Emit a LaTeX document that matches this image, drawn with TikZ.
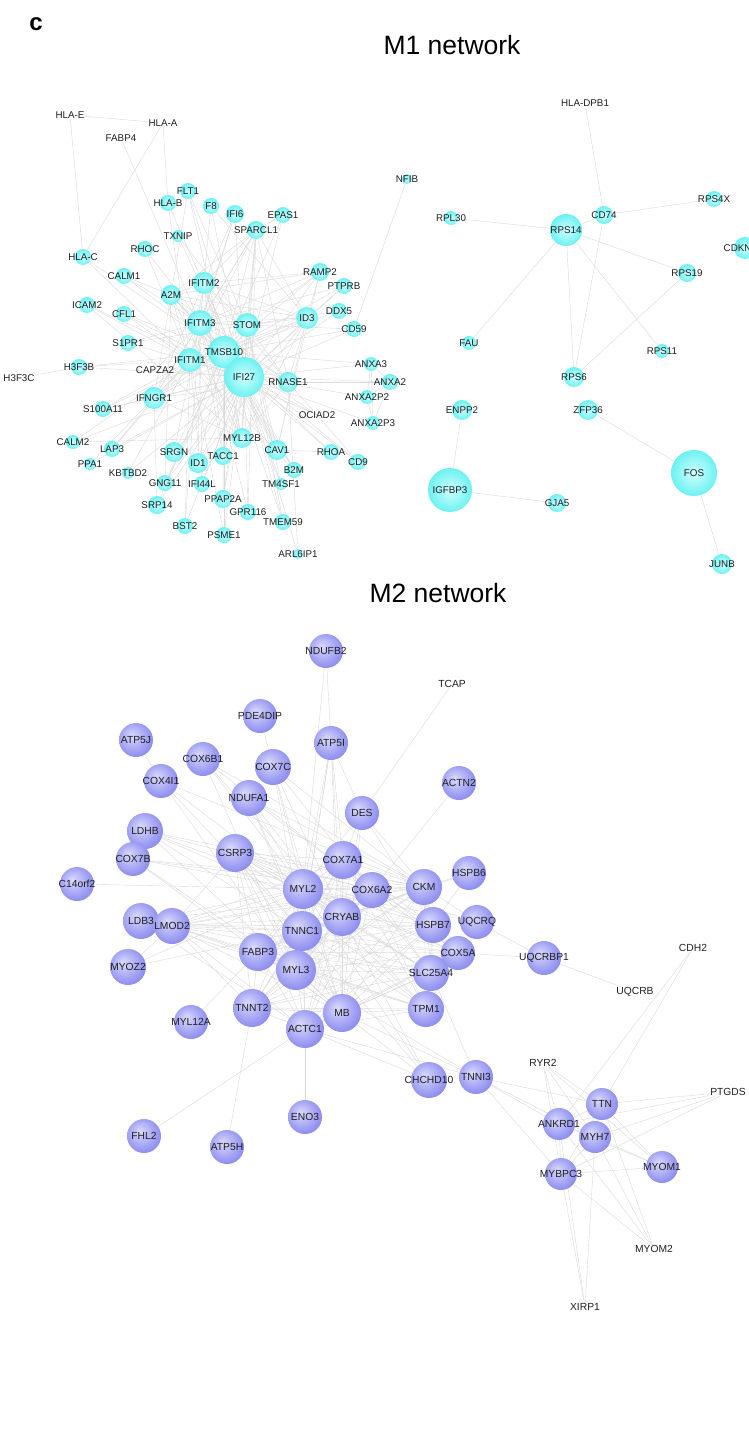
\documentclass[tikz,border=0pt]{standalone}
\usepackage{fontspec}
\setmainfont{Liberation Sans}
\usetikzlibrary{backgrounds}
\definecolor{c1hi}{HTML}{D2FFFF}
\definecolor{c1lo}{HTML}{6CF1F1}
\definecolor{c2hi}{HTML}{DADAFC}
\definecolor{c2mid}{HTML}{A2A2F4}
\definecolor{c2lo}{HTML}{8080EA}
\definecolor{edgec}{HTML}{D9D9D9}
\definecolor{txt}{HTML}{1E1E1E}
\pgfdeclareradialshading{monecyan}{\pgfpoint{0bp}{0bp}}{color(0bp)=(c1hi); color(25bp)=(c1lo); color(50bp)=(c1lo)}
\pgfdeclareradialshading{mtwoball}{\pgfpoint{-7bp}{7bp}}{color(0bp)=(c2hi); color(20bp)=(c2mid); color(33bp)=(c2lo); color(50bp)=(c2lo)}
\tikzset{
  onecirc/.style={circle, inner sep=0pt, shade, shading=monecyan},
  twocirc/.style={circle, inner sep=0pt, shade, shading=mtwoball},
  labone/.style={inner sep=0.5pt, font=\fontsize{9.8}{10}\selectfont, text=txt},
  labtwo/.style={inner sep=0.5pt, font=\fontsize{10.3}{11}\selectfont, text=txt},
  edge/.style={draw=edgec, line width=0.4pt},
  titl/.style={inner sep=0pt, font=\fontsize{26.5}{30}\selectfont, text=black}
}
% cyan node: name, x, y, r, label
\newcommand\cyn[5]{\node[onecirc, minimum size={2*#4pt}] (#1) at (#2,#3) {};\node[labone] (#1-l) at (#2,#3) {#5};}
% lavender node
\newcommand\lvn[5]{\node[twocirc, minimum size={2*#4pt}] (#1) at (#2,#3) {};\node[labtwo] (#1-l) at (#2,#3) {#5};}
% text-only nodes
\newcommand\tone[4]{\node[labone] (#1) at (#2,#3) {#4};}
\newcommand\ttwo[4]{\node[labtwo] (#1) at (#2,#3) {#4};}
\begin{document}
\begin{tikzpicture}[x=1pt,y=-1pt]
\useasboundingbox (0,0) rectangle (749,1450);
\clip (0,0) rectangle (749,1450);

\node[inner sep=0pt, font=\fontsize{24}{28}\selectfont\bfseries] (tagc) at (36,24) {c};
\node[titl] (tone) at (452,45) {M1 network};
\node[titl] (ttwo) at (438,593) {M2 network};

% ---------------- M1 left cluster ----------------
\tone{HLAE}{70}{115}{HLA-E}
\tone{HLAA}{163}{123}{HLA-A}
\tone{FABP4}{121}{138}{FABP4}
\cyn{FLT1}{188}{191}{8}{FLT1}
\cyn{HLAB}{168}{203}{8}{HLA-B}
\cyn{F8}{211}{206}{8}{F8}
\cyn{IFI6}{235}{214}{9}{IFI6}
\cyn{EPAS1}{283}{215}{8}{EPAS1}
\cyn{SPARCL1}{256}{230}{9}{SPARCL1}
\cyn{TXNIP}{178}{236}{6}{TXNIP}
\cyn{RHOC}{145}{249}{8}{RHOC}
\cyn{HLAC}{83}{257}{8}{HLA-C}
\cyn{NFIB}{407}{179}{5}{NFIB}
\cyn{CALM1}{124}{276}{8}{CALM1}
\cyn{RAMP2}{320}{272}{9}{RAMP2}
\cyn{PTPRB}{344}{286}{8}{PTPRB}
\cyn{IFITM2}{204}{283}{11}{IFITM2}
\cyn{A2M}{171}{295}{10}{A2M}
\cyn{ICAM2}{87}{305}{8}{ICAM2}
\cyn{DDX5}{339}{311}{8}{DDX5}
\cyn{CFL1}{124}{314}{8}{CFL1}
\cyn{ID3}{307}{318}{11}{ID3}
\cyn{IFITM3}{200}{323}{13}{IFITM3}
\cyn{STOM}{247}{325}{12}{STOM}
\cyn{CD59}{354}{329}{8}{CD59}
\cyn{S1PR1}{128}{343}{8}{S1PR1}
\cyn{TMSB10}{224}{352}{16}{TMSB10}
\cyn{IFITM1}{190}{360}{12}{IFITM1}
\cyn{H3F3B}{79}{367}{8}{H3F3B}
\tone{H3F3C}{19}{378}{H3F3C}
\tone{CAPZA2}{155}{370}{CAPZA2}
\cyn{ANXA3}{371}{364}{7}{ANXA3}
\cyn{IFI27}{244}{377}{20}{IFI27}
\cyn{RNASE1}{288}{382}{10}{RNASE1}
\cyn{ANXA2}{390}{382}{8}{ANXA2}
\cyn{ANXA2P2}{367}{397}{7}{ANXA2P2}
\cyn{IFNGR1}{154}{398}{11}{IFNGR1}
\cyn{S100A11}{103}{409}{8}{S100A11}
\tone{OCIAD2}{317}{415}{OCIAD2}
\cyn{ANXA2P3}{373}{423}{7}{ANXA2P3}
\cyn{MYL12B}{242}{438}{10}{MYL12B}
\cyn{CALM2}{73}{442}{7}{CALM2}
\cyn{LAP3}{112}{449}{8}{LAP3}
\cyn{SRGN}{174}{452}{10}{SRGN}
\cyn{CAV1}{277}{450}{10}{CAV1}
\cyn{RHOA}{331}{452}{8}{RHOA}
\cyn{TACC1}{223}{456}{9}{TACC1}
\cyn{CD9}{358}{462}{8}{CD9}
\cyn{ID1}{198}{463}{10}{ID1}
\cyn{PPA1}{90}{464}{6}{PPA1}
\cyn{B2M}{294}{470}{8}{B2M}
\cyn{KBTBD2}{128}{473}{6}{KBTBD2}
\cyn{GNG11}{165}{483}{8}{GNG11}
\cyn{IFI44L}{202}{484}{8}{IFI44L}
\cyn{TM4SF1}{281}{484}{6}{TM4SF1}
\cyn{PPAP2A}{223}{499}{9}{PPAP2A}
\cyn{SRP14}{157}{505}{9}{SRP14}
\cyn{GPR116}{248}{512}{8}{GPR116}
\cyn{TMEM59}{283}{522}{8}{TMEM59}
\cyn{BST2}{185}{526}{8}{BST2}
\cyn{PSME1}{224}{535}{8}{PSME1}
\cyn{ARL6IP1}{298}{554}{5}{ARL6IP1}

% ---------------- M1 right part ----------------
\tone{HLADPB1}{585}{103}{HLA-DPB1}
\cyn{RPL30}{451}{218}{7}{RPL30}
\cyn{RPS14}{566}{230}{16}{RPS14}
\cyn{CD74}{604}{215}{9}{CD74}
\cyn{RPS4X}{714}{199}{8}{RPS4X}
\node[onecirc, minimum size=22pt] (CDKN) at (745,248) {};
\node[labone, anchor=west] (CDKN-l) at (723,248) {CDKN1A};
\cyn{RPS19}{687}{273}{9}{RPS19}
\cyn{FAU}{469}{343}{7}{FAU}
\cyn{RPS11}{662}{351}{7}{RPS11}
\cyn{RPS6}{574}{377}{10}{RPS6}
\cyn{ENPP2}{462}{410}{10}{ENPP2}
\cyn{ZFP36}{588}{410}{10}{ZFP36}
\cyn{IGFBP3}{450}{490}{22}{IGFBP3}
\cyn{GJA5}{557}{503}{9}{GJA5}
\cyn{FOS}{694}{473}{23}{FOS}
\cyn{JUNB}{722}{564}{10}{JUNB}

% ---------------- M2 ----------------
\lvn{NDUFB2}{326}{651}{17}{NDUFB2}
\ttwo{TCAP}{452}{684}{TCAP}
\lvn{PDE4DIP}{260}{716}{17}{PDE4DIP}
\lvn{ATP5J}{136}{740}{17}{ATP5J}
\lvn{ATP5I}{331}{743}{17}{ATP5I}
\lvn{COX6B1}{203}{759}{17}{COX6B1}
\lvn{COX7C}{273}{767}{18}{COX7C}
\lvn{ACTN2}{459}{783}{17}{ACTN2}
\lvn{COX4I1}{161}{781}{17}{COX4I1}
\lvn{NDUFA1}{249}{798}{18}{NDUFA1}
\lvn{DES}{362}{813}{17}{DES}
\lvn{LDHB}{145}{831}{18}{LDHB}
\lvn{CSRP3}{235}{853}{19}{CSRP3}
\lvn{COX7B}{133}{859}{17}{COX7B}
\lvn{COX7A1}{343}{860}{19}{COX7A1}
\lvn{HSPB6}{469}{873}{17}{HSPB6}
\lvn{C14orf2}{77}{884}{17}{C14orf2}
\lvn{MYL2}{303}{889}{20}{MYL2}
\lvn{COX6A2}{372}{890}{18}{COX6A2}
\lvn{CKM}{424}{887}{18}{CKM}
\lvn{CRYAB}{342}{917}{19}{CRYAB}
\lvn{HSPB7}{433}{925}{18}{HSPB7}
\lvn{UQCRQ}{477}{922}{17}{UQCRQ}
\lvn{LDB3}{141}{921}{18}{LDB3}
\lvn{LMOD2}{172}{926}{18}{LMOD2}
\lvn{TNNC1}{302}{931}{20}{TNNC1}
\lvn{FABP3}{258}{952}{19}{FABP3}
\lvn{COX5A}{458}{953}{17}{COX5A}
\lvn{UQCRBP1}{544}{958}{17}{UQCRBP1}
\ttwo{CDH2}{693}{948}{CDH2}
\lvn{MYOZ2}{128}{967}{18}{MYOZ2}
\lvn{MYL3}{296}{970}{20}{MYL3}
\lvn{SLC25A4}{431}{973}{18}{SLC25A4}
\ttwo{UQCRB}{635}{992}{UQCRB}
\lvn{TNNT2}{252}{1008}{19}{TNNT2}
\lvn{TPM1}{426}{1009}{18}{TPM1}
\lvn{MB}{342}{1013}{19}{MB}
\lvn{MYL12A}{191}{1022}{17}{MYL12A}
\lvn{ACTC1}{305}{1029}{19}{ACTC1}
\ttwo{RYR2}{543}{1063}{RYR2}
\lvn{TNNI3}{476}{1077}{17}{TNNI3}
\lvn{CHCHD10}{429}{1080}{18}{CHCHD10}
\ttwo{PTGDS}{728}{1092}{PTGDS}
\lvn{TTN}{602}{1104}{16}{TTN}
\lvn{ENO3}{305}{1117}{17}{ENO3}
\lvn{ANKRD1}{559}{1124}{16}{ANKRD1}
\lvn{MYH7}{595}{1137}{16}{MYH7}
\lvn{FHL2}{144}{1136}{17}{FHL2}
\lvn{ATP5H}{227}{1147}{17}{ATP5H}
\lvn{MYOM1}{662}{1167}{16}{MYOM1}
\lvn{MYBPC3}{561}{1174}{16}{MYBPC3}
\ttwo{MYOM2}{654}{1249}{MYOM2}
\ttwo{XIRP1}{585}{1307}{XIRP1}

% ---------------- edges ----------------
\begin{pgfonlayer}{background}
\def\hubsA{IFI27,TMSB10,IFITM1,IFITM3,STOM,IFITM2,A2M,ID3,MYL12B,RNASE1,IFNGR1,SPARCL1}
\foreach \a [count=\i] in \hubsA {
  \foreach \b [count=\j] in \hubsA {
    \ifnum\j>\i \draw[edge] (\a) -- (\b); \fi }}
\foreach \p/\hs in {
  HLAE/{HLAA,HLAC}, HLAA/{HLAB,HLAC}, FABP4/{IFITM3}, HLAC/{TMSB10,IFITM1},
  HLAB/{IFITM1,IFI27}, FLT1/{IFI27,TMSB10,A2M,STOM}, F8/{IFITM3,IFI27,ID3},
  IFI6/{IFITM1,IFITM3,IFI27,IFITM2}, EPAS1/{IFI27,TMSB10,SPARCL1},
  TXNIP/{IFI27,STOM}, RHOC/{IFITM1,TMSB10}, NFIB/{CD59},
  CALM1/{IFITM3,TMSB10,A2M}, RAMP2/{IFI27,TMSB10,IFITM3,STOM,A2M,IFITM2,ID3},
  PTPRB/{IFITM3,IFI27,ID3,TMSB10}, ICAM2/{IFITM1,IFI27,MYL12B},
  DDX5/{TMSB10,IFI27,STOM}, CFL1/{IFI27,IFITM1,TMSB10}, CD59/{IFI27,IFITM3,TMSB10},
  S1PR1/{IFI27,STOM,IFITM3}, H3F3B/{H3F3C,IFITM1,IFI27,TMSB10},
  CAPZA2/{IFI27,IFITM3}, ANXA3/{IFI27,ANXA2,TMSB10},
  ANXA2/{ANXA2P2,ANXA2P3,IFI27,RNASE1}, ANXA2P2/{ANXA3,ANXA2P3,IFI27},
  ANXA2P3/{ANXA3,IFI27}, S100A11/{IFI27,IFITM1,TMSB10,IFNGR1},
  OCIAD2/{IFI27,TMSB10,IFITM1}, CALM2/{IFITM1,IFI27,MYL12B},
  LAP3/{IFI27,IFITM1,IFNGR1}, SRGN/{IFI27,TMSB10,IFITM3},
  CAV1/{IFI27,TMSB10,IFITM3,STOM,ID3,RAMP2}, RHOA/{IFI27,TMSB10,CAV1},
  TACC1/{IFI27,IFITM3,IFITM2}, CD9/{IFI27,TMSB10,RNASE1},
  ID1/{IFI27,TMSB10,IFITM3,ID3}, PPA1/{IFI27,IFITM1},
  B2M/{IFI27,IFITM3,TMSB10,IFITM1}, KBTBD2/{IFI27,IFITM1},
  GNG11/{IFI27,TMSB10,A2M,STOM}, IFI44L/{IFI27,IFITM1,IFITM3},
  TM4SF1/{IFI27,TMSB10,STOM}, PPAP2A/{IFI27,TMSB10,STOM},
  SRP14/{IFI27,TMSB10,IFNGR1}, GPR116/{IFI27,IFITM3,SPARCL1},
  TMEM59/{TMSB10,IFI27,STOM}, BST2/{IFI27,IFITM1,IFITM3},
  PSME1/{IFI27,IFITM1,TMSB10}, ARL6IP1/{IFI27,RNASE1},
  HLADPB1/{CD74}, CD74/{RPS14,RPS4X,RPS6}, RPL30/{RPS14},
  RPS14/{FAU,RPS6,RPS19,RPS11}, RPS19/{RPS6}, ENPP2/{IGFBP3},
  IGFBP3/{GJA5}, ZFP36/{FOS}, FOS/{JUNB}}{ \foreach \h in \hs { \draw[edge] (\p) -- (\h); } }

\def\hubsB{MYL2,MYL3,TNNC1,CRYAB,FABP3,ACTC1,MB,TNNT2,COX7A1,COX6A2,CKM,HSPB7,CSRP3,LMOD2,SLC25A4,COX5A,TPM1}
\foreach \a [count=\i] in \hubsB {
  \foreach \b [count=\j] in \hubsB {
    \ifnum\j>\i \draw[edge] (\a) -- (\b); \fi }}
\foreach \p/\hs in {
  NDUFB2/{ATP5I,MYL2}, TCAP/{DES}, ACTN2/{COX6A2},
  ATP5I/{MYL2,CRYAB,TNNC1,DES,MYL3,COX7A1,MB}, PDE4DIP/{COX7C},
  ATP5J/{COX4I1}, COX6B1/{MYL2,CRYAB,MYL3,COX6A2,CKM},
  COX7C/{MYL2,TNNC1,CKM,COX6A2,CRYAB,MB}, COX4I1/{MYL2,CKM,MYL3,TNNC1},
  NDUFA1/{MYL2,CKM,CRYAB,MB,TNNC1,COX6A2}, DES/{MYL2,COX7A1,CRYAB,CKM,HSPB7,MB},
  LDHB/{MYL2,CKM,CRYAB,TNNC1,MB,COX6A2}, COX7B/{MYL2,CKM,COX6A2,MB,MYL3},
  HSPB6/{CKM,CRYAB,HSPB7}, C14orf2/{MYL2}, UQCRQ/{CKM,COX6A2,UQCRBP1,MYL2},
  LDB3/{MYL2,TNNC1,MYL3,ACTC1,CKM}, UQCRBP1/{UQCRB,COX5A},
  MYOZ2/{MYL2,TNNC1,LMOD2}, MYL12A/{FABP3},
  TNNI3/{MB,ACTC1,TTN,ANKRD1,MYH7,MYBPC3,MYL3,SLC25A4},
  CHCHD10/{MB,ACTC1,MYL2,CRYAB,TNNC1}, ENO3/{ACTC1}, FHL2/{ACTC1}, ATP5H/{TNNT2},
  RYR2/{ANKRD1,MYH7,TTN,MYBPC3,MYOM1}, PTGDS/{TTN,MYH7,ANKRD1,MYBPC3},
  CDH2/{ANKRD1,TTN}, TTN/{MYH7,ANKRD1,MYBPC3,MYOM1}, ANKRD1/{MYH7,MYBPC3,MYOM1},
  MYH7/{MYBPC3,MYOM1}, MYBPC3/{MYOM1}, MYOM2/{MYH7,MYBPC3,TTN,ANKRD1},
  XIRP1/{MYBPC3,MYH7,ANKRD1}}{ \foreach \h in \hs { \draw[edge] (\p) -- (\h); } }
\end{pgfonlayer}
\end{tikzpicture}
\end{document}
